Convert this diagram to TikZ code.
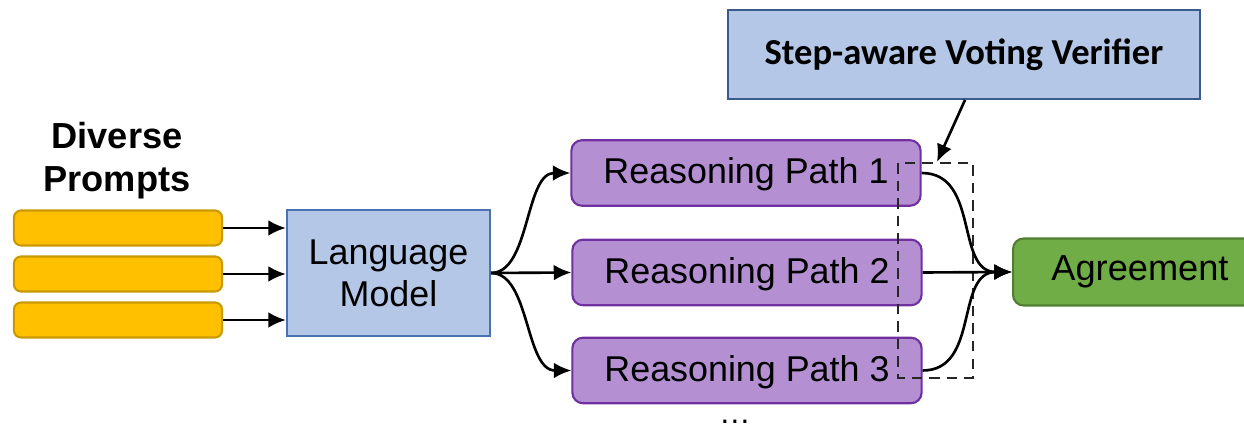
\documentclass[tikz,border=0pt]{standalone}
\usepackage{fontspec}
\setmainfont{Liberation Sans}
\newfontfamily\calibri{Carlito}
\usetikzlibrary{arrows.meta}
\definecolor{pfill}{HTML}{FFC000}
\definecolor{pdraw}{HTML}{C99A00}
\definecolor{bfill}{HTML}{B4C7E7}
\definecolor{bdraw}{HTML}{4A72B0}
\definecolor{rfill}{HTML}{B490D2}
\definecolor{rdraw}{HTML}{7030A0}
\definecolor{gfill}{HTML}{70AD47}
\definecolor{gdraw}{HTML}{507E32}
\tikzset{
  px/.style={x=0.01cm,y=-0.01cm},
  promptbox/.style={draw=pdraw,fill=pfill,rounded corners=2pt,line width=0.6pt,minimum width=2.08cm,minimum height=0.35cm,inner sep=0pt},
  bluebox/.style={draw=bdraw,fill=bfill,line width=0.6pt,inner sep=0pt,align=center},
  rpbox/.style={draw=rdraw,fill=rfill,rounded corners=3pt,line width=0.6pt,minimum width=3.49cm,minimum height=0.655cm,inner sep=0pt,text height=0.75em,text depth=0.15em,font=\fontsize{10.2pt}{12pt}\selectfont},
  agreebox/.style={draw=gdraw,fill=gfill,rounded corners=3pt,line width=0.6pt,minimum width=2.6cm,minimum height=0.67cm,inner sep=0pt},
  conn/.style={-{Latex[length=5pt,width=4.5pt]},line width=0.75pt,black},
  dashbox/.style={draw=black!85,line width=0.6pt,dash pattern=on 3pt off 2pt},
}
\begin{document}
\begin{tikzpicture}[px]
\useasboundingbox (0,0) rectangle (1244,428);
% prompts
\node[font=\bfseries\fontsize{10.3pt}{12.3pt}\selectfont,align=center] (dp) at (117,161) {Diverse\\Prompts};
\node[promptbox] (p1) at (118,228) {};
\node[promptbox] (p2) at (118,274) {};
\node[promptbox] (p3) at (118,320) {};
% language model
\node[bluebox,minimum width=2.03cm,minimum height=1.26cm,font=\fontsize{10.2pt}{12pt}\selectfont] (lm) at (388.5,273) {Language\\Model};
% reasoning paths
\node[rpbox] (r1) at (746,173) {Reasoning Path 1};
\node[rpbox] (r2) at (747,272.5) {Reasoning Path 2};
\node[rpbox] (r3) at (747,370.5) {Reasoning Path 3};
\node[font=\fontsize{9pt}{10pt}\selectfont] (dots) at (735,422) {\dots};
% agreement
\node[agreebox,anchor=west] (ag) at (1012,272) {};
\node[font=\fontsize{10.3pt}{12pt}\selectfont] (agt) at (1140,272) {Agreement};
% verifier
\node[bluebox,draw=bdraw!80!black,minimum width=4.72cm,minimum height=0.89cm,font=\calibri\bfseries\fontsize{10.4pt}{12pt}\selectfont] (sv) at (964,54.5) {Step-aware Voting Verifier};
% dashed box
\draw[dashbox] (898,163) rectangle (973,378);
\coordinate (dtop) at (937,162);
% connectors prompts -> LM
\draw[conn] (p1.east) -- (lm.west |- p1.east);
\draw[conn] (p2.east) -- (lm.west |- p2.east);
\draw[conn] (p3.east) -- (lm.west |- p3.east);
% LM -> paths
\draw[conn] (lm.east) .. controls (530,273) and (525,173) .. (r1.west);
\draw[conn] (lm.east) -- (r2.west);
\draw[conn] (lm.east) .. controls (530,273) and (525,370.5) .. (r3.west);
% paths -> agreement
\draw[conn] (r1.east) .. controls (980,173) and (955,272) .. (ag.west);
\draw[conn] (r2.east) -- (ag.west);
\draw[conn] (r3.east) .. controls (980,370.5) and (955,272) .. (ag.west);
% verifier -> dashed box
\draw[conn] (965,100) -- (dtop);
\end{tikzpicture}
\end{document}
